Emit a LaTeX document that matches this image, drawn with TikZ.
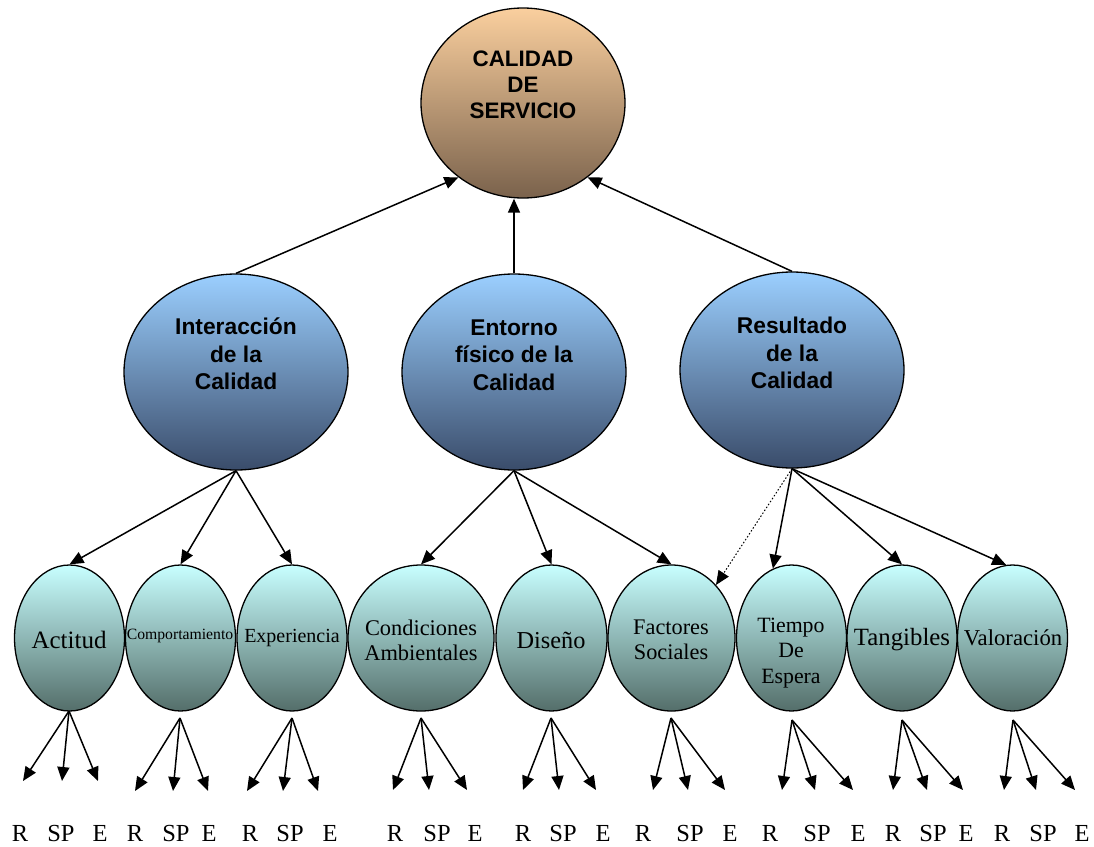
\documentclass[tikz,border=0pt]{standalone}
\usepackage{fontspec}
\setmainfont{Liberation Serif}
\setsansfont{Liberation Sans}
\usetikzlibrary{shapes.geometric,arrows.meta}
\definecolor{topA}{RGB}{250,207,158}
\definecolor{topB}{RGB}{122,98,76}
\definecolor{midA}{RGB}{155,207,255}
\definecolor{midB}{RGB}{58,76,106}
\definecolor{lowA}{RGB}{200,255,255}
\definecolor{lowB}{RGB}{84,110,106}
\begin{document}
\begin{tikzpicture}[x=1pt,y=-1pt,
  ell/.style={ellipse,draw=black,line width=1.3pt,inner sep=0pt},
  topell/.style={ell,top color=topA,bottom color=topB,minimum width=204pt,minimum height=190pt},
  midell/.style={ell,top color=midA,bottom color=midB,minimum width=224pt,minimum height=196pt},
  lowell/.style={ell,top color=lowA,bottom color=lowB,minimum height=146pt},
  ttxt/.style={align=center,inner sep=0pt,font=\sffamily\bfseries\fontsize{22.4}{26}\selectfont},
  mtxt/.style={align=center,inner sep=0pt,font=\sffamily\bfseries\fontsize{22.8}{27.5}\selectfont},
  ltxt/.style={align=center,inner sep=0pt},
  lab/.style={inner sep=0pt,anchor=base,font=\fontsize{24.5}{26}\selectfont},
  arr/.style={-{Triangle[length=14pt,width=12pt]},line width=1.5pt}]
\useasboundingbox (0,0) rectangle (1094,846);

% top
\node[topell] (cal) at (523,103) {};
\node[ttxt] (calT) at (523,85) {CALIDAD\\DE\\SERVICIO};

% middle
\node[midell] (inter) at (236,372) {};
\node[mtxt] (interT) at (236,354) {Interacción\\de la\\Calidad};
\node[midell] (ent) at (514,372) {};
\node[mtxt] (entT) at (514,355) {Entorno\\físico de la\\Calidad};
\node[midell] (res) at (792,370) {};
\node[mtxt] (resT) at (792,353) {Resultado\\de la\\Calidad};

% bottom
\node[lowell,minimum width=110pt] (act) at (69.5,638) {};
\node[ltxt,font=\fontsize{25}{25}\selectfont] (actT) at (69,640) {Actitud};
\node[lowell,minimum width=110pt] (comp) at (180.5,638) {};
\node[ltxt,font=\fontsize{15.7}{18}\selectfont] (compT) at (180,636) {Comportamiento};
\node[lowell,minimum width=110pt] (exp) at (292,638) {};
\node[ltxt,font=\fontsize{20}{24}\selectfont] (expT) at (292,638) {Experiencia};
\node[lowell,minimum width=146pt] (cond) at (421,638) {};
\node[ltxt,font=\fontsize{22.4}{25}\selectfont] (condT) at (421,640) {Condiciones\\Ambientales};
\node[lowell,minimum width=111pt] (dis) at (551.5,638) {};
\node[ltxt,font=\fontsize{24.3}{25}\selectfont] (disT) at (551,640) {Diseño};
\node[lowell,minimum width=127pt] (fac) at (671.5,638) {};
\node[ltxt,font=\fontsize{22.3}{25}\selectfont] (facT) at (671,640) {Factores\\Sociales};
\node[lowell,minimum width=110pt] (tie) at (791.5,638) {};
\node[ltxt,font=\fontsize{21.8}{25.5}\selectfont] (tieT) at (791,653) {Tiempo\\De\\Espera};
\node[lowell,minimum width=110pt] (tan) at (902,638) {};
\node[ltxt,font=\fontsize{24.8}{25}\selectfont] (tanT) at (902,640) {Tangibles};
\node[lowell,minimum width=110pt] (val) at (1012.5,638) {};
\node[ltxt,font=\fontsize{22.7}{25}\selectfont] (valT) at (1013,638) {Valoración};

% top arrows
\draw[arr] (inter.north) -- (cal.229);
\draw[arr] (ent.north) -- (ent.north |- cal.south);
\draw[arr] (res.north) -- (cal.311);

% middle to bottom
\draw[arr] (inter.south) -- (act.north);
\draw[arr] (inter.south) -- (comp.north);
\draw[arr] (inter.south) -- (exp.north);
\draw[arr] (ent.south) -- (cond.north);
\draw[arr] (ent.south) -- (dis.north);
\draw[arr] (ent.south) -- (fac.north);
\draw[arr,dotted,line width=1pt] (res.south) -- (fac.50);
\draw[arr] (res.south) -- (tie.105);
\draw[arr] (res.south) -- (tan.north);
\draw[arr] (res.south) -- (val.95);

% indicator arrows and labels
\foreach \n/\sx/\sy/\ty/\ax/\bx/\cx/\lr/\ls/\le in {
  act/69/711/781/23/62/98/20/61/100,
  comp/180/718/791/135/173/208/135/176/209,
  exp/292/718/791/247/283/318/250/290/330,
  cond/421/718/790/393/429/467/395/437/475,
  dis/551/718/790/523/559/596/523/563/603,
  fac/671/718/790/653/688/725/643/690/730,
  tie/792/720/790/782/815/853/770/817/858,
  tan/902/720/790/893/927/963/893/933/966,
  val/1013/720/790/1004/1036/1075/1002/1043/1082}{
  \coordinate (\n S) at (\sx,\sy);
  \coordinate (\n R) at (\ax,\ty);
  \coordinate (\n P) at (\bx,\ty);
  \coordinate (\n E) at (\cx,\ty);
  \draw[arr] (\n S) -- (\n R);
  \draw[arr] (\n S) -- (\n P);
  \draw[arr] (\n S) -- (\n E);
  \node[lab] (\n LR) at (\lr,841) {R};
  \node[lab] (\n LS) at (\ls,841) {SP};
  \node[lab] (\n LE) at (\le,841) {E};
}
\end{tikzpicture}
\end{document}
